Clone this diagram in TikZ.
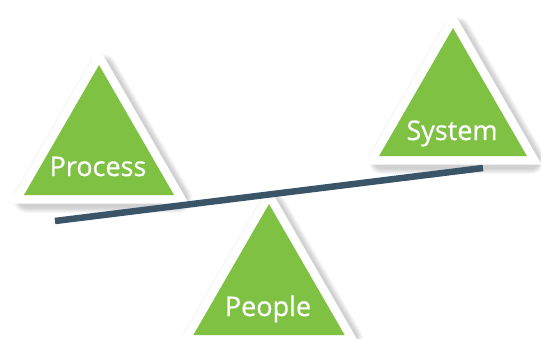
\documentclass[tikz,border=0pt]{standalone}
\usepackage{fontspec}
\setmainfont{Open Sans}
\newfontfamily\labfont{Open Sans}[FakeBold=0.7]
\definecolor{leaf}{RGB}{126,193,67}
\definecolor{beam}{RGB}{58,84,104}
\tikzset{
  shadowlayer/.style={draw=black, fill=black, opacity=0.03, line join=round},
  whiteborder/.style={draw=white, fill=white, line width=17pt, line join=miter},
  greenfill/.style={fill=leaf},
  label/.style={text=white, font=\labfont\fontsize{27}{30}\selectfont, inner sep=0pt, anchor=base},
  beamline/.style={draw=beam, line width=6.5pt}
}
\newcommand\tripath[3]{(#1,#2) -- ({#1-#3*0.57735},{#2+#3}) -- ({#1+#3*0.57735},{#2+#3}) -- cycle}
\newcommand\trishape[3]{%
  \foreach \i in {1,...,6}{
    \path[shadowlayer, line width={17+2*\i}] [shift={(3.5,3.5)}] \tripath{#1}{#2}{#3};
  }
  \path[whiteborder] \tripath{#1}{#2}{#3};
  \path[greenfill] \tripath{#1}{#2}{#3};
}
\begin{document}
\begin{tikzpicture}[x=1pt,y=-1pt]
\useasboundingbox (0,0) rectangle (541,338);
\fill[white] (0,0) rectangle (541,338);
\trishape{99}{65}{130}
\trishape{453}{28}{128}
\trishape{269}{204}{131}
\node[label] (process) at (98,176) {Process};
\node[label] (system) at (452,140) {System};
\node[label] (people) at (268,316) {People};
\coordinate (beamL) at (55,221);
\coordinate (beamR) at (483,168);
\draw[beamline] (beamL) -- (beamR);
\end{tikzpicture}
\end{document}
